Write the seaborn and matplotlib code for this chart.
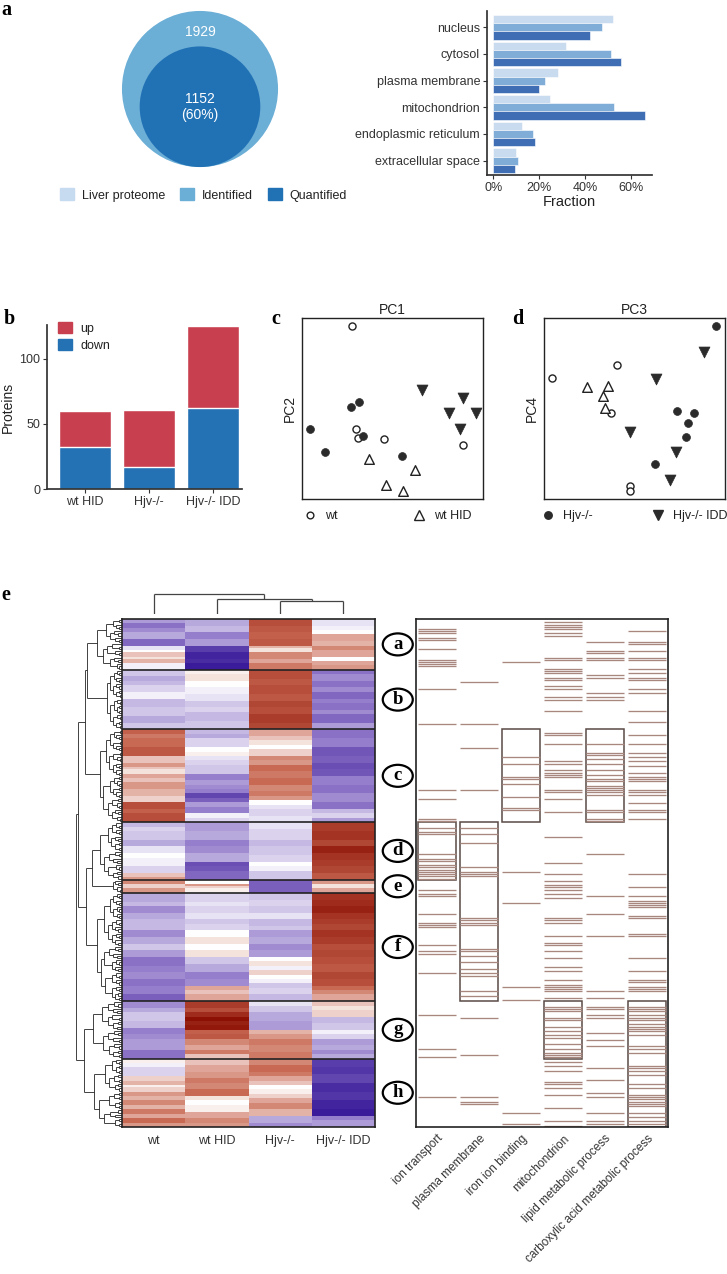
import numpy as np
import pandas as pd
import matplotlib
matplotlib.use("Agg")
import matplotlib.pyplot as plt
import seaborn as sns
from matplotlib.patches import Circle, Patch, Rectangle, Ellipse
from matplotlib.lines import Line2D
from matplotlib.collections import LineCollection
from matplotlib.colors import LinearSegmentedColormap
from matplotlib.ticker import PercentFormatter
import matplotlib.transforms as mtransforms

# ---------------- data ----------------
venn_sets = ["Liver proteome", "Identified", "Quantified"]
venn_identified = 1929
venn_quantified = 1152
venn_quantified_pct = 60

loc_categories = ["nucleus", "cytosol", "plasma membrane", "mitochondrion",
                  "endoplasmic reticulum", "extracellular space"]
loc_liver = [0.520, 0.316, 0.280, 0.246, 0.124, 0.100]
loc_identified = [0.473, 0.514, 0.227, 0.525, 0.175, 0.106]
loc_quantified = [0.420, 0.555, 0.200, 0.660, 0.183, 0.096]

diff_groups = ["wt HID", "Hjv-/-", "Hjv-/- IDD"]
diff_up = [28, 44, 63]
diff_down = [32, 17, 62]

pc_group = ["wt"] * 5 + ["wt HID"] * 4 + ["Hjv-/-"] * 6 + ["Hjv-/- IDD"] * 5
pc1 = [27.4, 30.0, 31.1, 45.1, 89.0, 37.0, 62.2, 46.6, 55.8, 4.4, 12.9, 27.1, 31.5, 33.5, 55.1,
       66.1, 89.1, 81.0, 96.1, 87.1]
pc2 = [95.6, 38.5, 33.6, 33.0, 29.7, 22.0, 16.1, 7.7, 4.6, 38.5, 26.2, 50.6, 53.4, 34.7, 24.0,
       60.2, 55.6, 47.3, 47.3, 38.5]
pc3 = [4.2, 40.4, 37.0, 47.7, 47.7, 23.7, 35.5, 32.8, 33.5, 94.9, 73.4, 82.9, 79.4, 78.3, 61.2,
       88.5, 61.9, 47.4, 73.2, 69.6]
pc4 = [67.0, 73.8, 47.7, 7.3, 4.6, 62.0, 62.4, 56.7, 50.1, 95.6, 48.6, 47.3, 41.8, 34.3, 19.1,
       81.3, 66.4, 37.1, 26.1, 10.5]

heatmap_samples = ["wt", "wt HID", "Hjv-/-", "Hjv-/- IDD"]
cluster_names = ["a", "b", "c", "d", "e", "f", "g", "h"]
cluster_sizes = [23, 27, 42, 26, 6, 49, 26, 31]

# z-scored expression, as (last row of band, value) per sample column
hm_wt = [(2, -0.7), (4, -1.0), (6, -0.8), (9, -0.6), (12, -1.1), (14, -0.2), (15, 0.0), (17, 0.4),
         (18, 0.2), (20, 0.5), (23, -0.1),
         (26, -0.4), (28, -0.6), (30, -0.5), (33, -0.3), (36, -0.1), (40, -0.5), (44, -0.4), (47, -0.6), (50, -0.4),
         (52, 1.1), (54, 0.9), (58, 1.0), (62, 1.2), (65, 0.4), (67, 0.7), (68, 0.4), (70, 0.2),
         (72, 0.6), (74, 0.4), (77, 0.7), (80, 0.5), (83, 0.3), (86, 1.3), (88, 1.1), (92, 1.3),
         (94, -0.5), (96, -0.3), (100, -0.4), (103, -0.6), (106, -0.2), (108, 0.0), (112, -0.1),
         (115, -0.3), (117, 0.4), (118, 0.7),
         (120, 0.8), (122, 0.3), (124, 0.7),
         (128, -0.6), (130, -0.5), (133, -0.8), (136, -0.6), (141, -0.5), (144, -0.8), (147, -0.6),
         (150, -0.4), (153, -0.7), (157, -1.0), (160, -0.9), (163, -0.8), (166, -1.0), (170, -0.9), (173, -1.2),
         (176, -0.8), (178, -0.6), (182, -0.4), (185, -0.5), (188, -0.9), (190, -0.8), (195, -0.7), (199, -1.0),
         (201, 0.1), (203, -0.1), (207, -0.3), (209, 0.3), (211, 0.5), (212, 0.1), (214, 0.3),
         (216, 0.7), (218, 0.5), (220, 0.8), (222, 0.5), (224, 0.9), (226, 0.6), (228, 1.0), (230, 0.7)]
hm_wthid = [(3, -0.6), (6, -0.5), (9, -0.9), (12, -0.7), (15, -1.6), (18, -1.9), (20, -1.8), (23, -2.0),
            (25, 0.1), (28, 0.2), (31, 0.0), (34, -0.1), (37, -0.2), (40, -0.4), (42, -0.3), (46, -0.5), (50, -0.4),
            (52, -0.5), (54, -0.6), (58, -0.3), (60, 0.0), (62, 0.1), (64, -0.2), (66, -0.3),
            (70, -0.4), (73, -0.9), (75, -0.7), (77, -0.8), (79, -0.9), (81, -1.5), (83, -1.2),
            (85, -0.7), (88, -0.9), (90, -0.1), (92, -0.3),
            (96, -0.7), (100, -0.6), (103, -0.9), (106, -0.8), (110, -0.6), (112, -1.4), (114, -1.3), (118, -1.1),
            (120, 0.0), (121, 0.7), (122, 0.3), (124, 0.1),
            (128, -0.3), (130, -0.2), (133, -0.3), (136, -0.2), (138, -0.4), (141, -0.3), (144, 0.0),
            (147, 0.2), (150, 0.0), (153, 0.2), (156, -0.4), (160, -0.6), (163, -0.9), (166, -0.8),
            (168, 0.6), (170, 0.4), (173, 0.6),
            (176, 1.5), (178, 1.3), (180, 1.7), (182, 2.0), (184, 1.8), (186, 1.9), (188, 1.1), (190, 1.2),
            (193, 0.8), (195, 0.6), (197, 0.9), (199, 0.4),
            (202, 0.4), (205, 0.6), (208, 0.7), (210, 0.9), (213, 0.8), (216, 1.0), (218, 0.2),
            (220, 0.0), (223, 0.1), (226, 0.6), (228, 0.8), (230, 0.7)]
hm_hjv = [(3, 1.3), (6, 1.2), (9, 1.1), (12, 1.2), (13, 0.5), (15, 0.2), (18, 0.8), (20, 0.6), (23, 0.9),
          (27, 1.3), (30, 1.2), (34, 1.3), (37, 1.2), (40, 1.4), (43, 1.3), (47, 1.5), (50, 1.4),
          (53, 0.6), (55, 0.4), (57, 0.2), (59, 0.0), (62, 0.3), (64, 0.8), (66, 0.7), (69, 1.0),
          (72, 0.9), (75, 1.0), (78, 0.8), (80, 0.9), (82, 0.7), (84, 0.0), (86, -0.2),
          (89, -0.3), (92, -0.2),
          (95, -0.2), (100, -0.3), (103, -0.5), (107, -0.4), (110, -0.3), (112, 0.0), (114, -0.1), (118, -0.4),
          (124, -1.2),
          (127, -0.4), (130, -0.3), (133, -0.4), (136, -0.2), (139, -0.5), (141, -0.4), (144, -0.7),
          (147, -0.6), (150, -0.8), (153, -0.7), (155, 0.0), (157, 0.2), (159, -0.1), (161, 0.3),
          (163, 0.0), (165, -0.1), (167, -0.4), (170, -0.3), (173, -0.5),
          (175, -0.2), (178, -0.4), (182, -0.6), (186, -0.7), (188, 0.5), (190, 0.7), (193, 0.9), (196, 0.8), (199, 0.9),
          (202, 0.8), (205, 1.0), (207, 0.9), (209, 0.6), (211, 0.4), (213, 0.0), (215, 0.1),
          (217, 0.3), (219, 0.6), (222, 0.8), (225, 0.5), (228, -0.6), (230, -0.8)]
hm_hjvidd = [(3, -0.2), (5, -0.1), (7, 0.0), (10, 0.6), (12, 0.5), (14, 0.8), (17, 0.6), (19, 0.0),
             (21, 0.6), (23, 0.7),
             (25, -1.0), (28, -0.8), (31, -1.0), (33, -0.8), (36, -1.1), (38, -0.9), (41, -1.0),
             (43, -0.8), (47, -1.1), (50, -0.7),
             (54, -1.0), (58, -0.9), (62, -1.3), (65, -1.2), (68, -1.4), (71, -1.3), (75, -0.9),
             (79, -1.0), (83, -0.8), (86, -1.0), (88, -0.5), (90, -0.3), (92, -0.7),
             (96, 1.5), (100, 1.6), (103, 1.4), (106, 1.8), (109, 1.6), (112, 1.5), (115, 1.4), (118, 1.2),
             (120, 0.7), (122, 0.2), (124, 0.6),
             (127, 1.6), (130, 1.7), (133, 1.8), (136, 1.6), (138, 1.5), (141, 1.4), (144, 1.6),
             (147, 1.5), (150, 1.3), (153, 1.4), (156, 1.3), (160, 1.2), (163, 1.4), (166, 1.3),
             (168, 1.0), (170, 0.8), (173, 0.6),
             (175, 0.4), (177, 0.2), (180, 0.3), (183, -0.5), (186, -0.4), (188, -0.1), (190, -0.3),
             (193, -0.7), (195, -0.6), (197, -0.8), (199, -0.6),
             (203, -1.6), (206, -1.7), (210, -1.5), (214, -1.8), (218, -1.7), (222, -1.9), (225, -2.0),
             (227, -0.9), (230, -0.7)]

go_terms = ["ion transport", "plasma membrane", "iron ion binding", "mitochondrion",
            "lipid metabolic process", "carboxylic acid metabolic process"]
go_ion_transport = [4, 5, 6, 8, 9, 13, 18, 19, 20, 21, 31, 47, 77, 81, 90, 91, 94, 96, 97, 106, 108, 109,
                    111, 112, 113, 114, 115, 116, 117, 122, 124, 125, 133, 137, 138, 139, 147, 150, 151,
                    160, 179, 194, 198, 216]
go_plasma_membrane = [28, 47, 58, 77, 94, 97, 101, 112, 114, 115, 116, 135, 136, 137, 138, 149, 150,
                      152, 155, 158, 160, 161, 168, 170, 180, 197, 216, 218, 219]
go_iron_ion_binding = [19, 62, 65, 71, 72, 74, 80, 85, 86, 114, 128, 166, 172, 223, 228]
go_mitochondrion = [1, 2, 3, 4, 6, 7, 17, 18, 22, 23, 24, 26, 27, 30, 31, 35, 36, 41, 51, 52, 56, 64, 65,
                    68, 69, 70, 71, 77, 78, 81, 87, 98, 110, 115, 118, 120, 121, 122, 124, 126, 135, 136,
                    137, 143, 146, 147, 150, 153, 157, 159, 163, 165, 166, 167, 168, 171, 175, 176, 177,
                    180, 181, 184, 186, 188, 189, 192, 194, 196, 197, 198, 200, 202, 204, 209, 210, 212,
                    215, 221, 227, 229]
go_lipid = [10, 14, 15, 17, 18, 25, 26, 33, 35, 36, 56, 60, 61, 63, 65, 68, 70, 72, 73, 75, 76, 77, 78,
            79, 86, 87, 90, 91, 106, 125, 133, 143, 168, 171, 175, 176, 179, 180, 187, 190, 193, 203,
            208, 214, 216, 223, 227, 228]
go_carboxylic = [5, 10, 11, 14, 17, 18, 22, 24, 26, 27, 31, 33, 41, 46, 52, 56, 60, 62, 64, 66, 69, 71,
                 72, 73, 77, 78, 79, 83, 86, 87, 90, 115, 121, 125, 127, 128, 129, 130, 134, 135, 142,
                 143, 153, 159, 163, 164, 166, 167, 168, 175, 176, 177, 179, 180, 181, 183, 184, 185,
                 186, 188, 193, 194, 196, 202, 203, 204, 206, 210, 212, 215, 216, 217, 218, 219, 220,
                 223, 225, 227, 228]
go_enriched = [("d", "d"), ("d", "f"), ("c", "c"), ("g", "g"), ("c", "c"), ("g", "h")]

# dendrogram heights
cluster_root_heights = [25, 15, 22, 22, 9, 25, 29, 28]
row_merges = [("a", "b", 35, "ab"), ("ab", "c", 37, "abc"), ("d", "e", 30, "de"),
              ("de", "f", 36, "def"), ("abc", "def", 44, "A"), ("g", "h", 38, "gh"),
              ("A", "gh", 46.3, "root")]
col_merges = [(2, 3, 12.6, "23"), (1, "23", 14.3, "123"), (0, "123", 20.0, "root")]

# ---------------- style ----------------
sns.set_theme(style="ticks")
plt.rcParams['font.family'] = ['Liberation Sans', 'DejaVu Sans']
plt.rcParams['axes.edgecolor'] = '#333333'
plt.rcParams['xtick.color'] = '#333333'
plt.rcParams['ytick.color'] = '#333333'
plt.rcParams['text.color'] = '#222222'
plt.rcParams['axes.labelcolor'] = '#222222'

W, H = 727, 1274
fig = plt.figure(figsize=(W / 100, H / 100), dpi=100)


def add_ax(x0, y0, x1, y1):
    return fig.add_axes([x0 / W, 1 - y1 / H, (x1 - x0) / W, (y1 - y0) / H])


def panel_letter(x, y, s):
    fig.text(x / W, 1 - y / H, s, fontsize=14.5, fontweight='bold',
             family=['Liberation Serif', 'DejaVu Serif'], va='baseline', ha='left', color='black')


FS = 9

# ---------------- panel a: venn ----------------
ax_v = add_ax(100, 5, 300, 175)
s = 1.777
ax_v.set_xlim(-100 / s, 100 / s)
ax_v.set_ylim(-86 / s, 84 / s)
ax_v.axis('off')
R = np.sqrt(venn_identified)
r = np.sqrt(venn_quantified)
venn_cols = ["#c6dbef", "#6baed6", "#2171b5"]
ax_v.add_patch(Circle((0, 0), R, color=venn_cols[1], lw=0))
ax_v.add_patch(Circle((0, -(R - r)), r, color=venn_cols[2], lw=0))
ax_v.text(0, (R + (r - (R - r))) / 2 - 2, f"{venn_identified}", color='white', ha='center',
          va='center', fontsize=10)
ax_v.text(0, -(R - r), f"{venn_quantified}\n({venn_quantified_pct}%)", color='white', ha='center',
          va='center', fontsize=10, linespacing=1.15)
fig.legend(handles=[Patch(color=c, label=l) for c, l in zip(venn_cols, venn_sets)],
           loc='center left', bbox_to_anchor=(60 / W, 1 - 195 / H), ncol=3, frameon=False,
           fontsize=FS, handlelength=1.1, handleheight=1.1, handletextpad=0.65,
           columnspacing=1.2, borderpad=0, borderaxespad=0)
panel_letter(1, 15, "a")

# ---------------- panel a: localisation bars ----------------
ax_l = add_ax(487, 11, 652, 175)
df_loc = pd.DataFrame({
    "category": loc_categories * 3,
    "fraction": loc_liver + loc_identified + loc_quantified,
    "set": [venn_sets[0]] * 6 + [venn_sets[1]] * 6 + [venn_sets[2]] * 6,
})
bar_cols = ["#c9dbef", "#80add8", "#3f6eb5"]
sns.barplot(data=df_loc, y="category", x="fraction", hue="set", hue_order=venn_sets,
            palette=bar_cols, orient='h', width=0.92, saturation=1, ax=ax_l, legend=False,
            edgecolor='white', linewidth=0.4)
ax_l.set_xlim(-0.027, 0.69)
ax_l.set_ylim(5.54, -0.61)
ax_l.set_xticks([0, 0.2, 0.4, 0.6])
ax_l.xaxis.set_major_formatter(PercentFormatter(1.0, decimals=0))
ax_l.set_xlabel("Fraction", fontsize=10.5, labelpad=1)
ax_l.set_ylabel("")
ax_l.tick_params(labelsize=FS, length=3, width=0.8, pad=2)
sns.despine(ax=ax_l)

# ---------------- panel b ----------------
ax_b = add_ax(47, 325, 242, 489)
df_b = pd.DataFrame({"group": diff_groups, "up": diff_up, "down": diff_down})
df_b["total"] = df_b["up"] + df_b["down"]
red, blue = "#c8404f", "#2471b4"
sns.barplot(data=df_b, x="group", y="total", color=red, width=0.81, saturation=1, ax=ax_b)
sns.barplot(data=df_b, x="group", y="down", color=blue, width=0.81, saturation=1, ax=ax_b)
ax_b.set_xlim(-0.59, 2.45)
ax_b.set_ylim(0, 126)
ax_b.set_yticks([0, 50, 100])
ax_b.set_xlabel("")
ax_b.set_ylabel("Proteins", fontsize=10, labelpad=3)
ax_b.tick_params(labelsize=FS, length=3, width=0.8, pad=2)
sns.despine(ax=ax_b)
ax_b.legend(handles=[Patch(color=red, label="up"), Patch(color=blue, label="down")],
            loc='upper left', bbox_to_anchor=(0.056, 1.02), frameon=False, fontsize=FS,
            handlelength=1.15, handleheight=1.05, handletextpad=0.65, labelspacing=0.3,
            borderpad=0, borderaxespad=0)
panel_letter(4, 324, "b")

# ---------------- panels c, d ----------------
df_pc = pd.DataFrame({"group": pc_group, "pc1": pc1, "pc2": pc2, "pc3": pc3, "pc4": pc4})
pc_style = {
    "wt": dict(marker='o', s=26, facecolor='white', edgecolor='#222222', linewidth=1.0),
    "wt HID": dict(marker='^', s=48, facecolor='white', edgecolor='#222222', linewidth=1.0),
    "Hjv-/-": dict(marker='o', s=32, facecolor='#2b2b2b', edgecolor='#2b2b2b', linewidth=0.5),
    "Hjv-/- IDD": dict(marker='v', s=62, facecolor='#2b2b2b', edgecolor='#2b2b2b', linewidth=0.5),
}


def pc_panel(box, xcol, ycol, title, ylab, leg_groups, leg_x, colspace):
    ax = add_ax(*box)
    for g in ["wt", "wt HID", "Hjv-/-", "Hjv-/- IDD"]:
        sns.scatterplot(data=df_pc[df_pc.group == g], x=xcol, y=ycol, ax=ax, legend=False,
                        **pc_style[g])
    ax.set_xlim(0, 100)
    ax.set_ylim(0, 100)
    ax.set_xticks([])
    ax.set_yticks([])
    ax.set_xlabel("")
    ax.set_ylabel(ylab, fontsize=10, labelpad=4)
    ax.set_title(title, fontsize=10, pad=3)
    for sp in ax.spines.values():
        sp.set_linewidth(1.0)
        sp.set_color('#222222')
    handles = [Line2D([], [], linestyle='none', marker=pc_style[g]['marker'],
                      markerfacecolor=pc_style[g]['facecolor'],
                      markeredgecolor=pc_style[g]['edgecolor'],
                      markersize=np.sqrt(pc_style[g]['s']) * 0.95, label=g) for g in leg_groups]
    ax.legend(handles=handles, loc='center left', bbox_to_anchor=(leg_x, -0.094), ncol=2,
              frameon=False, fontsize=FS, handlelength=1.0, handletextpad=0.7,
              columnspacing=colspace, borderpad=0, borderaxespad=0)
    return ax


pc_panel((302, 318, 483, 499), "pc1", "pc2", "PC1", "PC2", ["wt", "wt HID"], 0.01, 6.0)
pc_panel((544, 318, 725, 499), "pc3", "pc4", "PC3", "PC4", ["Hjv-/-", "Hjv-/- IDD"], -0.012, 4.7)
panel_letter(271, 324, "c")
panel_letter(512, 324, "d")

# ---------------- panel e: heatmap ----------------
n_rows = int(np.sum(cluster_sizes))


def expand(segs):
    out, prev = [], 0
    for end, v in segs:
        out.extend([v] * (end - prev))
        prev = end
    return out


hm = np.column_stack([expand(hm_wt), expand(hm_wthid), expand(hm_hjv), expand(hm_hjvidd)])
df_hm = pd.DataFrame(hm, columns=heatmap_samples)

cmap = LinearSegmentedColormap.from_list(
    "pw", [(0.0, "#3a1c9a"), (0.25, "#8a70c6"), (0.5, "#ffffff"), (0.75, "#c96a54"), (1.0, "#8c1004")])

HM_T, HM_B = 619, 1127
ax_hm = add_ax(122, HM_T, 375, HM_B)
sns.heatmap(df_hm, ax=ax_hm, cmap=cmap, vmin=-2, vmax=2, cbar=False, yticklabels=False,
            xticklabels=heatmap_samples)
ax_hm.tick_params(axis='x', length=0, labelsize=FS, pad=6)
ax_hm.set_xticklabels(heatmap_samples, rotation=0)
for sp in ax_hm.spines.values():
    sp.set_visible(True)
    sp.set_linewidth(1.2)
    sp.set_color('#222222')
bounds = np.cumsum([0] + cluster_sizes)
ax_hm.hlines(bounds[1:-1], 0, 4, color='#222222', lw=1.2)
px_x = 253 / 4.0       # pixels per heatmap column
px_y = 508 / n_rows    # pixels per heatmap row
for k, name in enumerate(cluster_names):
    yc = (bounds[k] + bounds[k + 1]) / 2
    ax_hm.add_patch(Ellipse((4.36, yc), 30 / px_x, 22 / px_y, fc='white', ec='black', lw=1.6,
                            clip_on=False))
    ax_hm.text(4.36, yc, name, fontsize=13.5, fontweight='bold', ha='center', va='center',
               family=['Liberation Serif', 'DejaVu Serif'], color='black', clip_on=False)


# row dendrogram
def bisect_tree(lo, hi):
    if hi - lo == 1:
        return lo + 0.5, 0.0, []
    mid = (lo + hi) // 2
    y1, h1, s1 = bisect_tree(lo, mid)
    y2, h2, s2 = bisect_tree(mid, hi)
    d = np.linalg.norm(hm[lo:mid].mean(0) - hm[mid:hi].mean(0))
    h = max(h1, h2) + 1.0 + d
    segs = s1 + s2 + [[(h1, y1), (h, y1)], [(h2, y2), (h, y2)], [(h, y1), (h, y2)]]
    return (y1 + y2) / 2, h, segs


all_segs = []
nodes = {}
for k, name in enumerate(cluster_names):
    y, hraw, segs = bisect_tree(bounds[k], bounds[k + 1])
    f = cluster_root_heights[k] / hraw
    all_segs += [[(p[0][0] * f, p[0][1]), (p[1][0] * f, p[1][1])] for p in segs]
    nodes[name] = (y, cluster_root_heights[k])
for n1, n2, h, new in row_merges:
    y1, h1 = nodes[n1]
    y2, h2 = nodes[n2]
    all_segs += [[(h1, y1), (h, y1)], [(h2, y2), (h, y2)], [(h, y1), (h, y2)]]
    nodes[new] = ((y1 + y2) / 2, h)

ax_rd = add_ax(73, HM_T, 122, HM_B)
ax_rd.add_collection(LineCollection(all_segs, colors='#222222', linewidths=0.6))
ax_rd.set_xlim(49, 0)
ax_rd.set_ylim(n_rows, 0)
ax_rd.axis('off')

# column dendrogram
ax_cd = add_ax(122, 590, 375, 613.5)
cnodes = {i: (i + 0.5, 0.0) for i in range(4)}
csegs = []
for n1, n2, h, new in col_merges:
    x1, h1 = cnodes[n1]
    x2, h2 = cnodes[n2]
    csegs += [[(x1, h1), (x1, h)], [(x2, h2), (x2, h)], [(x1, h), (x2, h)]]
    cnodes[new] = ((x1 + x2) / 2, h)
ax_cd.add_collection(LineCollection(csegs, colors='#444444', linewidths=0.9))
ax_cd.set_xlim(0, 4)
ax_cd.set_ylim(0, 23.5)
ax_cd.axis('off')
panel_letter(1, 600, "e")

# ---------------- panel e: GO annotation ----------------
ax_go = add_ax(416, HM_T, 668, HM_B)
go_rows = [go_ion_transport, go_plasma_membrane, go_iron_ion_binding, go_mitochondrion,
           go_lipid, go_carboxylic]
for i, rows in enumerate(go_rows):
    ax_go.hlines(np.array(rows) + 0.5, i - 0.45, i + 0.45, color='#a8877f', lw=0.95)
    c0, c1 = go_enriched[i]
    k0, k1 = cluster_names.index(c0), cluster_names.index(c1)
    ax_go.add_patch(Rectangle((i - 0.45, bounds[k0]), 0.9, bounds[k1 + 1] - bounds[k0],
                              fill=False, ec='#5a4a46', lw=1.1))
ax_go.set_xlim(-0.5, 5.5)
ax_go.set_ylim(n_rows, 0)
ax_go.set_yticks([])
ax_go.set_xticks(range(6))
offset = mtransforms.ScaledTranslation(10 / 100, 0, fig.dpi_scale_trans)
ax_go.set_xticklabels(go_terms, rotation=45, ha='right', rotation_mode='anchor', fontsize=8.5)
for lab in ax_go.get_xticklabels():
    lab.set_transform(lab.get_transform() + offset)
ax_go.tick_params(axis='x', length=0, pad=4)
for sp in ax_go.spines.values():
    sp.set_linewidth(1.2)
    sp.set_color('#222222')

fig.savefig("out.png", dpi=100)
